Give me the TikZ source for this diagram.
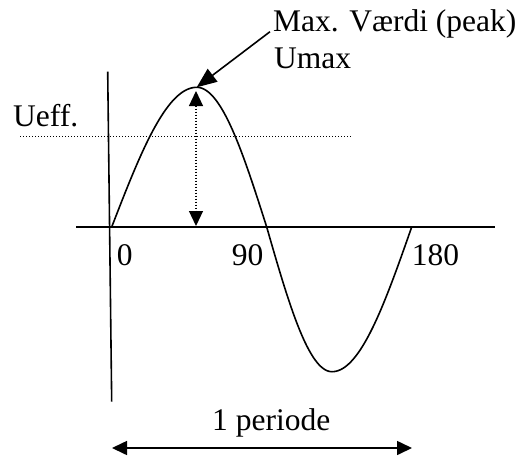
\documentclass[tikz,border=0pt]{standalone}
\usepackage{fontspec}
\setmainfont{Liberation Serif}
\usetikzlibrary{arrows.meta}
\tikzset{tipa/.tip={Triangle[length=15pt,width=14pt]},
  tipb/.tip={Triangle[length=20pt,width=16pt]}}
\begin{document}
\begin{tikzpicture}[x=1pt,y=-1pt,
  line/.style={line width=1.6pt},
  lbl/.style={anchor=base west, inner sep=0pt, font=\fontsize{31.5}{36}\selectfont},
  dotline/.style={line width=1.2pt, dash pattern=on 1.2pt off 1.8pt}]
\useasboundingbox (0,0) rectangle (520,459);
% axes
\coordinate (vtop) at (107.7,71.7);
\coordinate (vbot) at (111.7,401.7);
\coordinate (hl) at (76,227);
\coordinate (hr) at (495,227);
\draw[line] (vtop) -- (vbot);
\draw[line] (hl) -- (hr);
% Ueff dotted line
\coordinate (dl) at (20,136.7);
\coordinate (dr) at (352.7,136.7);
\draw[dotline] (dl) -- (dr);
% sine curve
\coordinate (peak) at (196.7,87.3);
\draw[line, line join=round]
  plot[domain=111.7:196.7, samples=40, smooth] (\x, {227-139.7*sin((\x-111.7)/85*90)})
  -- plot[domain=196.7:266.7, samples=40, smooth] (\x, {227-139.7*cos((\x-196.7)/70*90)})
  -- plot[domain=266.7:332, samples=40, smooth] (\x, {227+144.7*sin((\x-266.7)/65.3*90)})
  -- plot[domain=332:411.7, samples=40, smooth] (\x, {227+144.7*cos((\x-332)/79.7*90)});
% Umax dotted double arrow
\coordinate (utop) at (196,91);
\coordinate (ubot) at (196,226);
\draw[dotline, tipa-tipa] (utop) -- (ubot);
% labels
\node[lbl] (maxv) at (273,31.7) {Max. Værdi (peak)};
\node[lbl] (umax) at (274,68) {Umax};
\node[lbl] (ueff) at (13,126) {Ueff.};
\node[lbl] (n0) at (116.7,265) {0};
\node[lbl] (n90) at (231.7,265) {90};
\node[lbl] (n180) at (411.7,265) {180};
\node[lbl] (per) at (212,430) {1 periode};
% annotation arrow
\draw[line, -tipb] ([xshift=-3pt]maxv.base west) -- (peak);
% period arrow
\coordinate (pl) at (112,448);
\coordinate (pr) at (412,448);
\draw[line, tipa-tipa] (pl) -- (pr);
\end{tikzpicture}
\end{document}
